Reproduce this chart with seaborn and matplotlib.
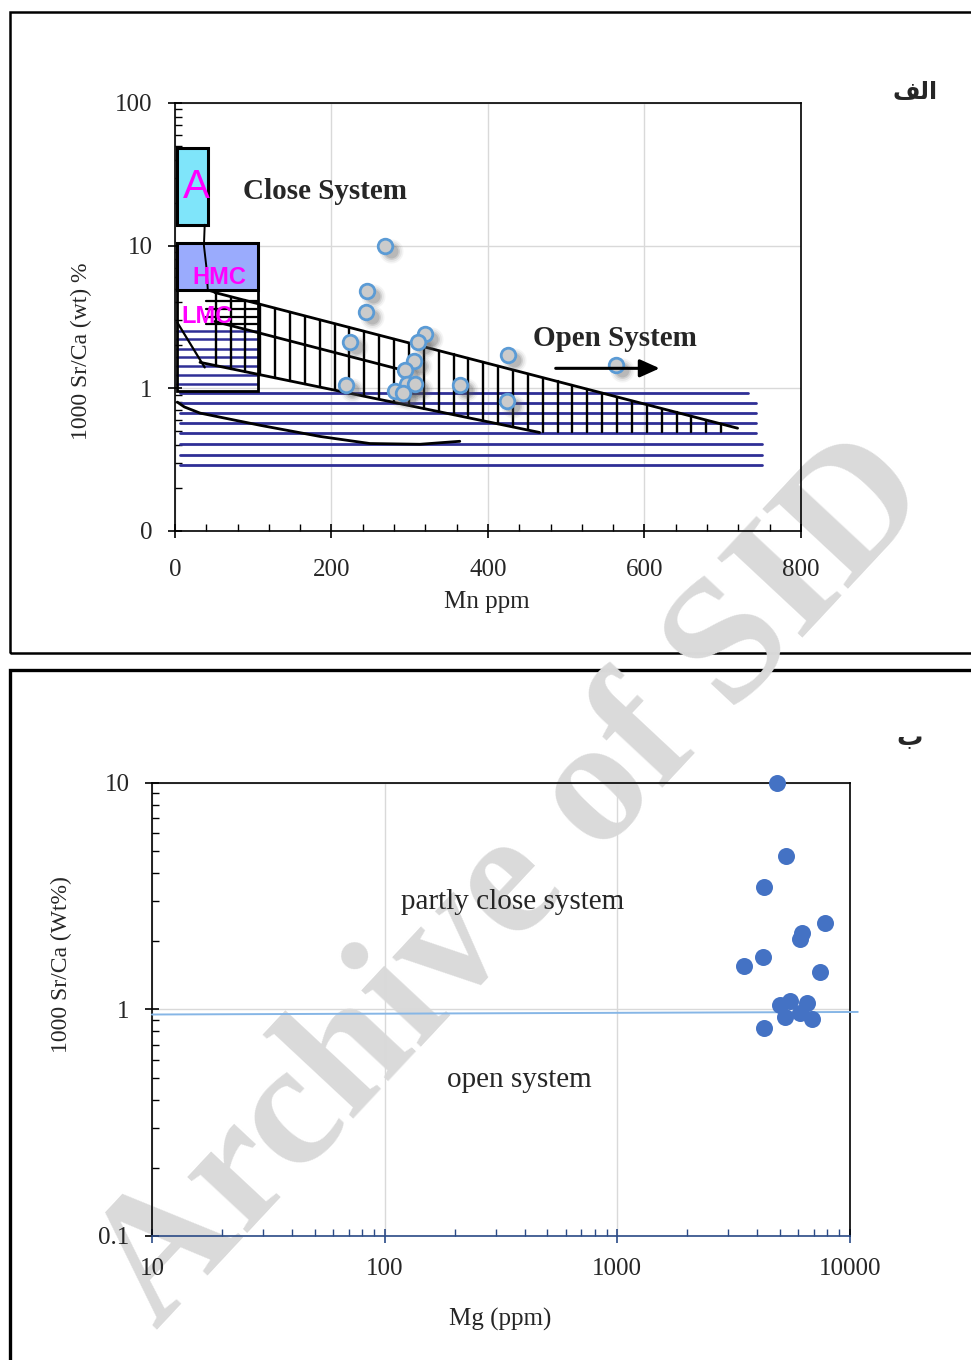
import matplotlib
matplotlib.use('Agg')
import matplotlib.pyplot as plt
import matplotlib.transforms as mtransforms
from matplotlib.patches import Rectangle
from matplotlib.ticker import FixedLocator, MultipleLocator, LogLocator, NullFormatter
import numpy as np
import pandas as pd
import seaborn as sns

# panel "الف": Mn (ppm) vs 1000 Sr/Ca
mn_ppm = [269, 246, 244, 224, 319, 310, 305, 294, 218, 296, 307, 281, 292, 364, 425, 424, 564]
srca_a = [10.0, 4.8, 3.4, 2.1, 2.4, 2.1, 1.55, 1.34, 1.05, 1.08, 1.08, 0.96, 0.92, 1.06, 1.7, 0.82, 1.45]

# panel "ب": Mg (ppm) vs 1000 Sr/Ca
mg_ppm = [4860, 5310, 4280, 7820, 6200, 6100, 4210, 3510, 7420, 5000, 5520, 6510, 5250, 6100, 6840, 4280]
srca_b = [10.0, 4.77, 3.46, 2.42, 2.18, 2.04, 1.70, 1.55, 1.47, 1.05, 1.09, 1.07, 0.93, 0.96, 0.91, 0.83]

# schematic fields of panel "الف"
a_box_mn, a_box_srca = [2, 42], [14.0, 48.4]
hmc_box_mn, hmc_box_srca = [2, 106], [4.85, 10.5]
lmc_box_mn, lmc_box_srca = [2, 106], [0.95, 4.85]
band_top_mn, band_top_srca = [51, 719], [4.69, 0.525]
band_low_mn, band_low_srca = [32, 466], [1.52, 0.49]
band_floor = 0.49
inner_mn, inner_srca = [51, 291], [2.94, 1.34]
steep_mn, steep_srca = [3, 38], [2.89, 1.40]
link_mn = [38, 37, 40, 42, 51]
link_srca = [14.0, 10.0, 7.2, 4.85, 4.69]
curve_mn = [3, 12, 32, 109, 185, 249, 313, 364]
curve_srca = [0.80, 0.74, 0.67, 0.55, 0.46, 0.41, 0.405, 0.425]
open_lines_srca = [0.923, 0.785, 0.669, 0.569, 0.485, 0.406, 0.340, 0.289]
open_lines_end = [732, 742, 742, 742, 742, 750, 750, 750]
lmc_blue_srca = [2.54, 2.20, 1.90, 1.65, 1.43, 1.23, 1.07]
lmc_black_srca = [4.12, 3.62, 3.18, 2.80]

# boundary line of panel "ب"
split_mg = [10, 10800]
split_srca = [0.95, 0.975]

sns.set_theme(style='white')
plt.rcParams['font.family'] = ['Liberation Serif', 'DejaVu Serif']
plt.rcParams['axes.unicode_minus'] = False

fig = plt.figure(figsize=(9.71, 13.6), dpi=100)

# page frames
fig.patches.append(Rectangle((0.0103, 0.5199), 1.2, 0.4713, transform=fig.transFigure,
                             fill=False, ec='black', lw=1.8, zorder=-5))
fig.patches.append(Rectangle((0.0103, -0.05), 1.2, 0.5574, transform=fig.transFigure,
                             fill=False, ec='black', lw=2.4, zorder=-5))

# watermark
fig.text(0.530, 0.350, 'Archive of SID', rotation=47, rotation_mode='anchor',
         ha='center', va='center', fontsize=129, fontweight='bold',
         color='#dadada', zorder=-1)

# ---------------- panel الف ----------------
ax1 = fig.add_axes([0.1802, 0.6096, 0.6447, 0.3147])
ax1.set_facecolor('none')
ax1.set_yscale('log')
ax1.set_xlim(0, 800)
ax1.set_ylim(0.1, 100)

ax1.add_patch(Rectangle((a_box_mn[0], a_box_srca[0]), a_box_mn[1] - a_box_mn[0],
                        a_box_srca[1] - a_box_srca[0], fc='#7fe5fa', ec='black', lw=2.2, zorder=3))
ax1.add_patch(Rectangle((hmc_box_mn[0], hmc_box_srca[0]), hmc_box_mn[1] - hmc_box_mn[0],
                        hmc_box_srca[1] - hmc_box_srca[0], fc='#9aabfd', ec='black', lw=2.2, zorder=3))
ax1.add_patch(Rectangle((lmc_box_mn[0], lmc_box_srca[0]), lmc_box_mn[1] - lmc_box_mn[0],
                        lmc_box_srca[1] - lmc_box_srca[0], fc='none', ec='black', lw=2.0, zorder=4))

# horizontal hatch (open-system field)
for yv, xe in zip(open_lines_srca, open_lines_end):
    ax1.plot([6, xe], [yv, yv], color='#2f2f96', lw=2.0, zorder=2)
for yv in lmc_blue_srca:
    ax1.plot([3, 105], [yv, yv], color='#2f2f96', lw=1.8, zorder=2)
for yv in lmc_black_srca:
    ax1.plot([40, 105], [yv, yv], color='black', lw=1.6, zorder=2)

# vertical hatch band
ltop = np.log10(band_top_srca)
llow = np.log10(band_low_srca)
for xv in np.arange(52, 715, 19):
    top = 10 ** np.interp(xv, band_top_mn, ltop)
    low = 10 ** np.interp(xv, band_low_mn, llow, right=np.log10(band_floor))
    low = max(low, band_floor)
    ax1.plot([xv, xv], [low, top], color='black', lw=1.7, zorder=2)
ax1.plot(band_top_mn, band_top_srca, color='black', lw=2.0, zorder=3)
ax1.plot(band_low_mn, band_low_srca, color='black', lw=2.0, zorder=3)
ax1.plot(inner_mn, inner_srca, color='black', lw=2.0, zorder=3)
ax1.plot(steep_mn, steep_srca, color='black', lw=1.6, zorder=3)
ax1.plot(link_mn, link_srca, color='black', lw=1.4, zorder=5)
ax1.plot(curve_mn, curve_srca, color='black', lw=2.0, zorder=3)

# points with soft shadow
sh = mtransforms.offset_copy(ax1.transData, fig=fig, x=6, y=-5, units='dots')
for sz, al in [(300, 0.06), (220, 0.09), (150, 0.14), (100, 0.18)]:
    ax1.scatter(mn_ppm, srca_a, s=sz, color='#505050', alpha=al, lw=0, transform=sh, zorder=5)
df_a = pd.DataFrame({'Mn': mn_ppm, 'SrCa': srca_a})
sns.scatterplot(data=df_a, x='Mn', y='SrCa', ax=ax1, s=110, color='#cbcbcb',
                edgecolor='#5b9bd5', linewidth=2.0, zorder=6, legend=False)

ax1.text(27, 25.9, 'A', color='#ff00ff', fontsize=29, ha='center', va='center',
         family=['Liberation Sans', 'DejaVu Sans'], zorder=7)
ax1.text(57, 5.95, 'HMC', color='#ff00ff', fontsize=17, fontweight='bold', ha='center', va='center',
         family=['Liberation Sans', 'DejaVu Sans'], zorder=7)
ax1.text(41, 3.2, 'LMC', color='#ff00ff', fontsize=17, fontweight='bold', ha='center', va='center',
         family=['Liberation Sans', 'DejaVu Sans'], zorder=7)
ax1.text(192, 23.9, 'Close System', fontsize=21, fontweight='bold', ha='center', va='center', zorder=7)
ax1.text(562, 2.24, 'Open System', fontsize=21, fontweight='bold', ha='center', va='center', zorder=7)
ax1.annotate('', xy=(623, 1.38), xytext=(483, 1.38),
             arrowprops=dict(arrowstyle='-|>,head_length=1.0,head_width=0.45', color='black', lw=2.2),
             zorder=7)

ax1.yaxis.set_major_locator(FixedLocator([0.1, 1, 10, 100]))
ax1.set_yticklabels(['0', '1', '10', '100'])
ax1.yaxis.set_minor_locator(LogLocator(base=10, subs=np.arange(2, 10)))
ax1.yaxis.set_minor_formatter(NullFormatter())
ax1.xaxis.set_major_locator(MultipleLocator(200))
ax1.xaxis.set_minor_locator(MultipleLocator(40))
ax1.grid(True, which='major', color='#d9d9d9', lw=1.0, zorder=0)
ax1.set_axisbelow(True)
for s in ax1.spines.values():
    s.set_color('black')
    s.set_linewidth(1.2)
ax1.tick_params(which='major', direction='inout', length=10, width=1.2, color='black',
                labelsize=18, pad=11, bottom=True, left=True)
ax1.tick_params(axis='x', which='major', pad=15)
ax1.tick_params(which='minor', direction='in', length=5, width=1.0, color='black',
                bottom=True, left=True)
ax1.set_xlabel('Mn ppm', fontsize=18)
ax1.set_ylabel('1000 Sr/Ca (wt) %', fontsize=17)
ax1.xaxis.set_label_coords(0.498, -0.14)
ax1.yaxis.set_label_coords(-0.1326, 0.42)

# ---------------- panel ب ----------------
ax2 = fig.add_axes([0.1565, 0.0912, 0.7189, 0.3331])
ax2.set_facecolor('none')
ax2.set_xscale('log')
ax2.set_yscale('log')
ax2.set_xlim(10, 10000)
ax2.set_ylim(0.1, 10)

ax2.plot(split_mg, split_srca, color='#86b6e6', lw=1.4, zorder=3, clip_on=False)
df_b = pd.DataFrame({'Mg': mg_ppm, 'SrCa': srca_b})
sns.scatterplot(data=df_b, x='Mg', y='SrCa', ax=ax2, s=150, color='#4472c4',
                edgecolor='#4472c4', linewidth=0, zorder=6, legend=False, clip_on=False)

ax2.text(356, 2.99, 'partly close system', fontsize=21, ha='center', va='center', zorder=7)
ax2.text(378, 0.49, 'open system', fontsize=21, ha='center', va='center', zorder=7)

ax2.xaxis.set_major_locator(FixedLocator([10, 100, 1000, 10000]))
ax2.set_xticklabels(['10', '100', '1000', '10000'])
ax2.yaxis.set_major_locator(FixedLocator([0.1, 1, 10]))
ax2.set_yticklabels(['0.1', '1', '10'])
ax2.xaxis.set_minor_locator(LogLocator(base=10, subs=np.arange(2, 10)))
ax2.yaxis.set_minor_locator(LogLocator(base=10, subs=np.arange(2, 10)))
ax2.xaxis.set_minor_formatter(NullFormatter())
ax2.yaxis.set_minor_formatter(NullFormatter())
ax2.grid(True, which='major', color='#d9d9d9', lw=1.0, zorder=0)
ax2.set_axisbelow(True)
for s in ax2.spines.values():
    s.set_color('black')
    s.set_linewidth(1.2)
ax2.spines['bottom'].set_color('#2a4a86')
ax2.tick_params(which='major', direction='inout', length=10, width=1.2, labelsize=18, pad=11,
                bottom=True, left=True)
ax2.tick_params(which='minor', direction='in', length=5, width=1.0, bottom=True, left=True)
ax2.tick_params(axis='x', which='both', color='#2a4a86')
ax2.tick_params(axis='y', which='both', color='black')
ax2.set_xlabel('Mg (ppm)', fontsize=18)
ax2.set_ylabel('1000 Sr/Ca (Wt%)', fontsize=17)
ax2.xaxis.set_label_coords(0.4986, -0.159)
ax2.yaxis.set_label_coords(-0.1146, 0.60)

# panel letters
fig.text(0.942, 0.932, '\uFED2\uFEDF\uFE8D', fontsize=17, fontweight='bold',
         family=['DejaVu Sans'], ha='center', va='center')
fig.text(0.937, 0.457, '\uFE8F', fontsize=19, fontweight='bold',
         family=['DejaVu Sans'], ha='center', va='center')

fig.savefig('out.png', dpi=100)
